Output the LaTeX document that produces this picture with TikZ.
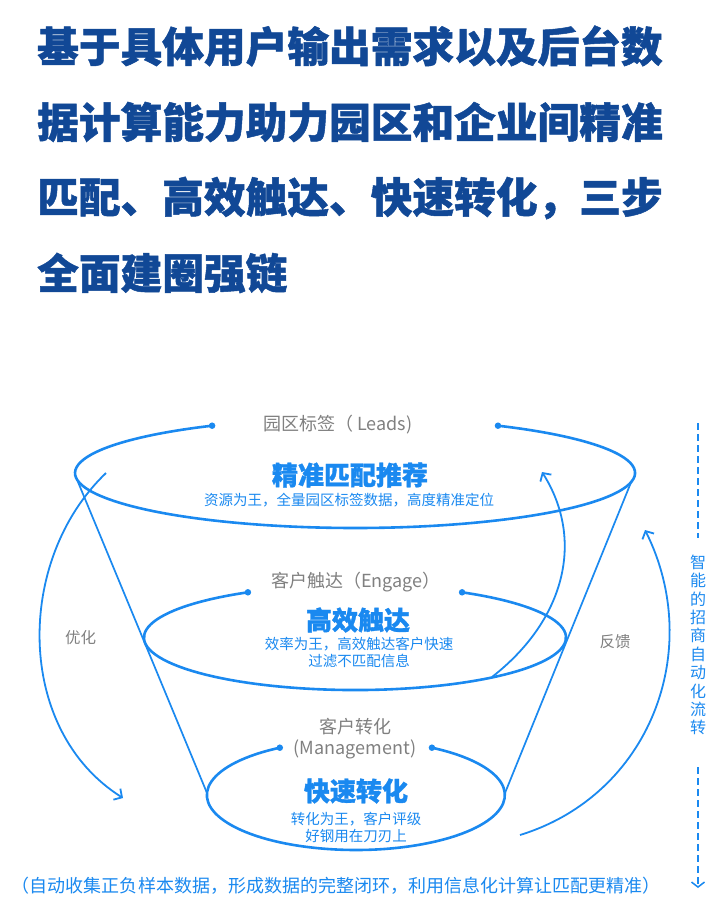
\documentclass[tikz,border=0pt]{standalone}
\usepackage{fontspec}
\newfontfamily\cjk{Noto Sans CJK SC}
\newfontfamily\cjkh{Noto Sans CJK SC}[BoldFeatures={FakeBold=1.2}]
\usetikzlibrary{arrows.meta}
\definecolor{lb}{RGB}{26,137,240}
\definecolor{db}{RGB}{17,72,150}
\definecolor{gr}{RGB}{128,128,128}
\begin{document}
\begin{tikzpicture}[x=1pt,y=1pt,
  title/.style={anchor=west, inner sep=0pt, text=db, font=\cjkh\bfseries\fontsize{41.7}{41.7}\selectfont},
  ell/.style={draw=lb, line width=2.6pt},
  cone/.style={draw=lb, line width=1.7pt},
  flow/.style={draw=lb, line width=1.8pt, -{Straight Barb[length=6pt,width=13pt,line width=1.8pt]}},
  dotp/.style={circle, fill=lb, inner sep=0pt, minimum size=6.5pt},
  lab/.style={text=gr, font=\cjk\fontsize{18}{21}\selectfont, inner sep=0pt, align=center},
  side/.style={text=gr, font=\cjk\fontsize{15.5}{18}\selectfont, inner sep=0pt},
  head/.style={text=lb, font=\cjkh\bfseries\fontsize{26}{28}\selectfont, inner sep=0pt},
  sub/.style={text=lb, font=\cjk\fontsize{14.5}{17}\selectfont, inner sep=0pt, align=center},
  vtext/.style={text=lb, font=\cjk\fontsize{16}{18.4}\selectfont, inner sep=0pt, align=center},
  vdash/.style={draw=lb, line width=1.5pt, dash pattern=on 7pt off 4pt},
]
\useasboundingbox[fill=white] (0,0) rectangle (718,-905);

% title
\node[title] (t1) at (37,-46) {基于具体用户输出需求以及后台数};
\node[title] (t2) at (37,-122) {据计算能力助力园区和企业间精准};
\node[title] (t3) at (37,-198) {匹配、高效触达、快速转化，三步};
\node[title] (t4) at (37,-273) {全面建圈强链};

% cone side lines
\coordinate (cl1) at (78,-482);
\coordinate (cl2) at (207,-793);
\coordinate (cr1) at (632,-480);
\coordinate (cr2) at (505,-793);
\draw[cone] (cl1) -- (cl2);
\draw[cone] (cr1) -- (cr2);

% top ellipse
\coordinate (a1) at (212.1,-425.7);
\draw[ell] (a1) arc[start angle=120.7, end angle=419.3, x radius=280, y radius=55] coordinate (b1);
\node[dotp] (da1) at (a1) {};
\node[dotp] (db1) at (b1) {};

% middle ellipse
\coordinate (a2) at (247.9,-592.3);
\draw[ell] (a2) arc[start angle=120.5, end angle=419.5, x radius=211, y radius=52.5] coordinate (b2);
\node[dotp] (da2) at (a2) {};
\node[dotp] (db2) at (b2) {};

% bottom ellipse
\coordinate (a3) at (279.8,-747.7);
\draw[ell] (a3) arc[start angle=120.7, end angle=419.3, x radius=149, y radius=55] coordinate (b3);
\node[dotp] (da3) at (a3) {};
\node[dotp] (db3) at (b3) {};

% labels
\node[lab, anchor=west] (l1) at (263,-425) {园区标签（ Leads)};
\node[head] (h1) at (350,-475) {精准匹配推荐};
\node[sub] (s1) at (349,-500) {资源为王，全量园区标签数据，高度精准定位};

\node[lab, anchor=west] (l2) at (271,-582) {客户触达（Engage）};
\node[head] (h2) at (358,-620) {高效触达};
\node[sub] (s2) at (359,-652) {效率为王，高效触达客户快速\\过滤不匹配信息};

\node[lab] (l3) at (355,-739) {客户转化\\(Management)};
\node[head] (h3) at (356,-791) {快速转化};
\node[sub] (s3) at (356,-827) {转化为王，客户评级\\好钢用在刀刃上};

% flow arrows
\coordinate (f1s) at (106,-473);
\coordinate (f1e) at (123,-798);
\draw[flow] (f1s) .. controls (15,-560) and (15,-730) .. (f1e);
\node[side] (opt) at (80.5,-638) {优化};

\coordinate (f2s) at (492,-677);
\coordinate (f2e) at (542,-472);
\draw[flow] (f2s) .. controls (565,-620) and (585,-540) .. (f2e);

\coordinate (f3s) at (520,-835);
\coordinate (f3e) at (645,-530);
\draw[flow] (f3s) .. controls (650,-795) and (705,-650) .. (f3e);
\node[side] (fb) at (615,-642) {反馈};

% right vertical dashed arrow
\coordinate (v0) at (698,-423);
\coordinate (v1) at (698,-538);
\node[vtext] (vt) at (698,-645) {智\\能\\的\\招\\商\\自\\动\\化\\流\\转};
\coordinate (v2) at (698,-767);
\coordinate (v3) at (698,-888);
\draw[vdash] (v0) -- (v1);
\draw[vdash, -{Straight Barb[length=5pt,width=13pt,line width=1.5pt]}] (v2) -- (v3);

% bottom note
\node[text=lb, font=\cjk\fontsize{18}{20}\selectfont, inner sep=0pt] (note) at (336,-886) {（自动收集正负样本数据，形成数据的完整闭环，利用信息化计算让匹配更精准）};
\end{tikzpicture}
\end{document}
